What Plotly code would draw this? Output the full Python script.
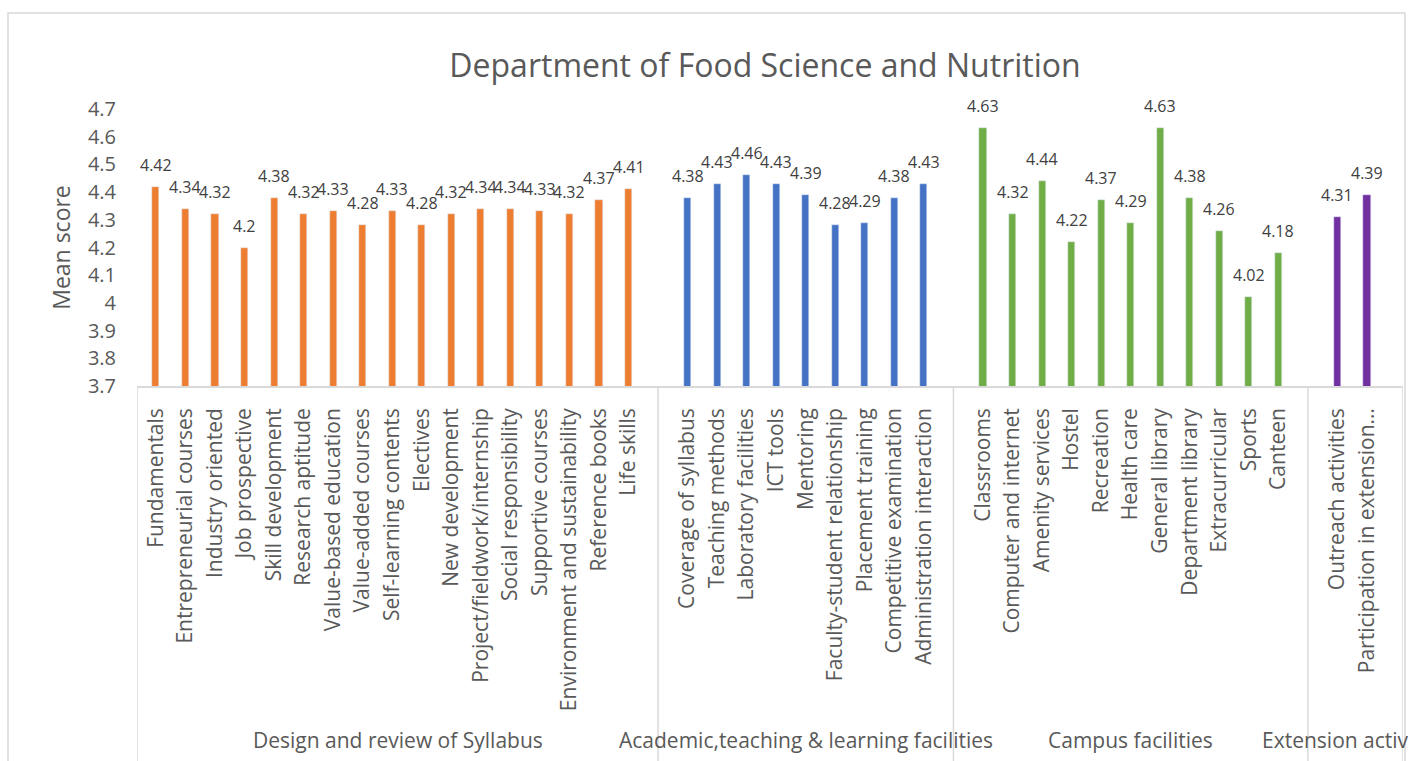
import plotly.graph_objects as go

# Category names and mean scores, by group
syllabus = ["Fundamentals", "Entrepreneurial courses", "Industry oriented", "Job prospective",
            "Skill development", "Research aptitude", "Value-based education", "Value-added courses",
            "Self-learning contents", "Electives", "New development", "Project/fieldwork/internship",
            "Social responsibility", "Supportive courses", "Environment and sustainability",
            "Reference books", "Life skills"]
syllabus_scores = [4.42, 4.34, 4.32, 4.2, 4.38, 4.32, 4.33, 4.28, 4.33, 4.28, 4.32, 4.34, 4.34,
                   4.33, 4.32, 4.37, 4.41]

academic = ["Coverage of syllabus", "Teaching methods", "Laboratory facilities", "ICT tools",
            "Mentoring", "Faculty-student relationship", "Placement training",
            "Competitive examination", "Administration interaction"]
academic_scores = [4.38, 4.43, 4.46, 4.43, 4.39, 4.28, 4.29, 4.38, 4.43]

campus = ["Classrooms", "Computer and internet", "Amenity services", "Hostel", "Recreation",
          "Health care", "General library", "Department library", "Extracurricular", "Sports",
          "Canteen"]
campus_scores = [4.63, 4.32, 4.44, 4.22, 4.37, 4.29, 4.63, 4.38, 4.26, 4.02, 4.18]

extension = ["Outreach activities", "Participation in extension\u2026"]
extension_scores = [4.31, 4.39]

groups = ["Design and review of Syllabus", "Academic,teaching & learning facilities",
          "Campus facilities", "Extension activities"]
colors = ["#ED7D31", "#4472C4", "#70AD47", "#7030A0"]

font = "Open Sans"
grey = "#595959"
line = "#D9D9D9"

# plot area in pixels
W, H = 1408, 761
L, R, T, B = 137, 5, 109, 375
pw, ph = W - L - R, H - T - B


def px_x(p):
    return (p - L) / pw


def px_y(p):
    return (H - B - p) / ph


fig = go.Figure()
tickvals, ticktext, seps = [], [], [-0.64]
start = 0
for name, cats, vals, col in zip(groups, [syllabus, academic, campus, extension],
                                 [syllabus_scores, academic_scores, campus_scores, extension_scores],
                                 colors):
    xs = [start + i for i in range(len(cats))]
    fig.add_trace(go.Bar(x=xs, y=vals, marker_color=col, width=0.24, name=name))
    # data labels a little above each bar
    for x, v in zip(xs, vals):
        fig.add_annotation(x=x, y=v, text=str(v), showarrow=False, yanchor="bottom", yshift=9,
                           font=dict(family=font, size=16, color="#404040"))
    tickvals += xs
    ticktext += cats
    end = start + len(cats)
    sep = end if end < 41 else 42.22
    seps.append(sep)
    fig.add_annotation(x=(seps[-2] + sep) / 2, xref="x", y=px_y(740), yref="paper",
                       text=name, showarrow=False, xanchor="center", yanchor="middle",
                       font=dict(family=font, size=21, color=grey))
    start = end + 1

# category box lines below the axis
for s in seps:
    fig.add_shape(type="line", xref="x", yref="paper", x0=s, x1=s, y0=0, y1=px_y(H + 5),
                  line=dict(color=line, width=1.5))

# outer chart border
fig.add_shape(type="rect", xref="paper", yref="paper", x0=px_x(8), x1=px_x(1405),
              y0=px_y(H + 5), y1=px_y(13), line=dict(color=line, width=1.5))

fig.update_layout(
    width=W, height=H,
    margin=dict(l=L, r=R, t=T, b=B),
    plot_bgcolor="white", paper_bgcolor="white",
    showlegend=False,
    bargap=0,
    title=dict(text="Department of Food Science and Nutrition", x=765 / W, xanchor="center",
               y=1 - 66 / H, yanchor="middle", yref="container",
               font=dict(family=font, size=32, color=grey)),
)
fig.update_xaxes(range=[-0.64, 42.22], tickvals=tickvals, ticktext=ticktext, tickangle=-90,
                 showgrid=False, zeroline=False, showline=True, linecolor=line, linewidth=1.5,
                 ticks="", ticklabelstandoff=12,
                 tickfont=dict(family=font, size=21, color=grey))
fig.update_yaxes(range=[3.7, 4.7], dtick=0.1, tickformat="~g", showgrid=False, zeroline=False,
                 showline=False, ticks="", ticklabelstandoff=20,
                 tickfont=dict(family=font, size=20, color=grey),
                 title=dict(text="Mean score", standoff=10,
                            font=dict(family=font, size=23, color=grey)))

fig.write_html("out.html", config={"displayModeBar": False},
               post_script="document.body.style.margin='0';")
